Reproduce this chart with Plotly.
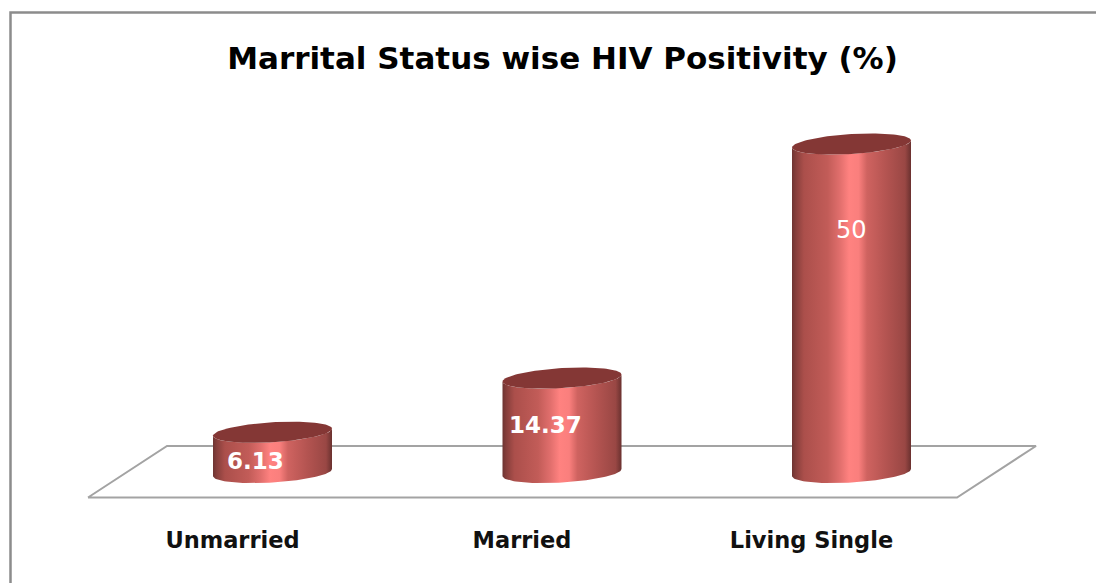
import numpy as np
import plotly.graph_objects as go

categories = ["Unmarried", "Married", "Living Single"]
values = [6.13, 14.37, 50]
labels = ["6.13", "14.37", "50"]
title_text = "Marrital Status wise HIV Positivity (%)"

OFF = 8                            # page margin the browser adds around the figure
W, H = 1104 - OFF, 583 - OFF
PLOT_BOTTOM_PX = 524               # window pixel of the axis line
X0_PX, STEP_PX = 232.5, 289.5      # front-plane category positions, window pixels
DEPTH_PX = 40                      # cylinders stand this far right of their tick labels
Y0_PX, UNIT_PX = 472.5, 6.57       # value axis, window pixels
plot_h = PLOT_BOTTOM_PX - OFF
xrange_ = [(OFF - X0_PX) / STEP_PX, (1104 - X0_PX) / STEP_PX]
yrange_ = [(Y0_PX - PLOT_BOTTOM_PX) / UNIT_PX, (Y0_PX - OFF) / UNIT_PX]

def dx(px): return (px - X0_PX) / STEP_PX
def dy(py): return (Y0_PX - py) / UNIT_PX
def paper_x(px): return (px - OFF) / W
def paper_y(py): return (PLOT_BOTTOM_PX - py) / plot_h

DEPTH = DEPTH_PX / STEP_PX
A = 59.5 / STEP_PX
B = 10 / UNIT_PX
SHEAR = 3.5 / UNIT_PX
t = np.linspace(0, 2 * np.pi, 121)

def rim(cx, cy, ts):
    return cx + A * np.cos(ts), cy + B * np.sin(ts) + SHEAR * np.cos(ts)

body_scale = [
    [0.00, "#6e3432"], [0.03, "#853e3b"], [0.10, "#ab4f4b"], [0.30, "#c25c58"],
    [0.40, "#e06e6c"], [0.48, "#ff8280"], [0.56, "#fa7f7d"], [0.63, "#cf6360"],
    [0.80, "#b25350"], [0.95, "#994744"], [1.00, "#6a312f"],
]

fig = go.Figure()

# floor of the 3-D plot
fig.add_trace(go.Scatter(
    x=[dx(88), dx(957), dx(1036), dx(167), dx(88)],
    y=[dy(497.5), dy(497.5), dy(446), dy(446), dy(497.5)],
    mode="lines", line=dict(color="#a3a3a3", width=2),
    hoverinfo="skip", showlegend=False))

for i, v in enumerate(values):
    cx = i + DEPTH
    xb, yb = rim(cx, 0, np.linspace(0, -np.pi, 61))
    xt, yt = rim(cx, v, np.linspace(-np.pi, 0, 61))
    fig.add_trace(go.Scatter(
        x=np.r_[xb, xt, xb[0]], y=np.r_[yb, yt, yb[0]],
        mode="lines", line=dict(width=0, color="rgba(0,0,0,0)"),
        fill="toself",
        fillgradient=dict(type="horizontal", colorscale=body_scale),
        hoverinfo="skip", showlegend=False))
    xe, ye = rim(cx, v, t)
    fig.add_trace(go.Scatter(
        x=xe, y=ye, mode="lines", line=dict(width=0, color="rgba(0,0,0,0)"),
        fill="toself", fillcolor="#843735",
        hoverinfo="skip", showlegend=False))

# data labels, placed as in the source
label_x_px = [255.5, 545.5, 851]
label_y_px = [460.5, 424.5, 229.5]
label_size = [23, 23, 24]
label_bold = [True, True, False]
for i, lab in enumerate(labels):
    fig.add_annotation(
        x=dx(label_x_px[i]), y=dy(label_y_px[i]), text=f"<b>{lab}</b>" if label_bold[i] else lab,
        showarrow=False, xanchor="center", yanchor="middle",
        font=dict(family="DejaVu Sans", size=label_size[i], color="#ffffff"))

fig.update_layout(
    width=W, height=H, autosize=False,
    margin=dict(l=0, r=0, t=0, b=H + OFF - PLOT_BOTTOM_PX),
    paper_bgcolor="#ffffff", plot_bgcolor="rgba(0,0,0,0)",
    showlegend=False,
    title=dict(text=f"<b>{title_text}</b>", x=paper_x((227 + 898) / 2), xanchor="center",
               y=1 - (58 - OFF) / H, yanchor="middle",
               font=dict(family="DejaVu Sans", size=31, color="#000000")),
    xaxis=dict(range=xrange_, tickmode="array", tickvals=list(range(len(categories))),
               ticktext=[f"<b>{c}</b>" for c in categories], showgrid=False, zeroline=False,
               showline=False, ticks="", tickfont=dict(family="DejaVu Sans", size=22.5, color="#111111")),
    yaxis=dict(range=yrange_, visible=False, showgrid=False, zeroline=False),
    shapes=[dict(type="path", xref="paper", yref="paper",
                 path=f"M {paper_x(10.5)} {paper_y(590)} L {paper_x(10.5)} {paper_y(12.5)} L {paper_x(1110)} {paper_y(12.5)}",
                 line=dict(color="#8c8c8c", width=2.5), layer="below")],
)
fig.write_html("out.html")
